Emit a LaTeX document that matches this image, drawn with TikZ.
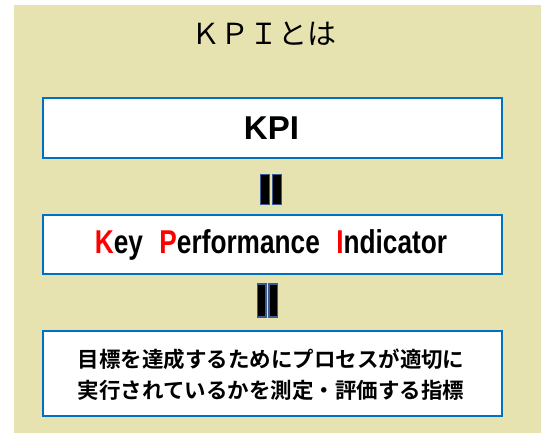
\documentclass[tikz,border=0pt]{standalone}
\usepackage{fontspec}
\newfontfamily\jp{Noto Sans CJK JP}
\newfontfamily\jpb{Noto Sans CJK JP Bold}
\newfontfamily\lat{Liberation Sans}
\definecolor{bgkhaki}{HTML}{E6E3B0}
\definecolor{boxblue}{HTML}{0070C0}
\definecolor{barblue}{HTML}{3A5A94}
\definecolor{kred}{HTML}{FF0000}
\tikzset{
  infobox/.style={draw=boxblue, line width=2pt, fill=white},
  bar/.style={draw=barblue, line width=1.3pt, fill=black},
}
\begin{document}
\begin{tikzpicture}[x=1pt,y=-1pt]
\useasboundingbox (0,0) rectangle (541,436);
\fill[bgkhaki] (14,5) rectangle (541,433);
\node[font=\jp\fontsize{29}{32}\selectfont] (title) at (264,34) {ＫＰＩとは};
\draw[infobox] (42.7,97.7) rectangle (501.7,158) node[midway, inner sep=0] (kpi) {};
\node[font=\lat\bfseries\fontsize{33}{36}\selectfont] at (271.5,128.5) (kpitext) {KPI};
\draw[bar] (260.6,174.6) rectangle (269.4,204.4);
\draw[bar] (272.6,174.6) rectangle (281.4,204.4);
\draw[infobox] (42.7,215) rectangle (501.7,274) node[midway, inner sep=0] (kpiexp) {};
\node at (271,244.5) (kpiexptext) {\scalebox{0.795}[1]{\lat\bfseries\fontsize{33}{36}\selectfont\textcolor{kred}{K}ey\hspace{0.35em} \textcolor{kred}{P}erformance\hspace{0.35em} \textcolor{kred}{I}ndicator}};
\draw[bar] (257.3,284) rectangle (266.1,317);
\draw[bar] (268.9,284) rectangle (277.7,317);
\draw[infobox] (42.7,331) rectangle (501.7,416.3) node[midway, inner sep=0] (defn) {};
\node[align=center, font=\jpb\fontsize{21.5}{31}\selectfont] at (271,374.5) (defntext) {目標を達成するためにプロセスが適切に\\実行されているかを測定・評価する指標};
\end{tikzpicture}
\end{document}
